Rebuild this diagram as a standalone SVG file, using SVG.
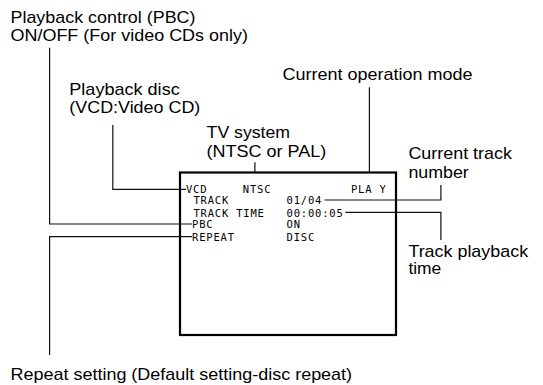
<svg xmlns="http://www.w3.org/2000/svg" width="543" height="385" viewBox="0 0 543 385">
<style>
.lbl{font-family:"Liberation Sans",Arial,sans-serif;font-size:16.4px;fill:#000}
.osd{font-family:"DejaVu Sans Mono","Liberation Mono",monospace;font-size:10.5px;letter-spacing:0.8px;fill:#000}
.ln{fill:none;stroke:#111;stroke-width:1.2}
</style>
<rect width="543" height="385" fill="#fff"/>
<g id="screen">
<rect x="180" y="172.5" width="216" height="162.5" fill="none" stroke="#000" stroke-width="2.2"/>
<text class="osd" x="186" y="192.7">VCD</text>
<text class="osd" x="242.8" y="192.7">NTSC</text>
<text class="osd" x="351" y="192.7">PLA Y</text>
<text class="osd" x="193.5" y="204.3">TRACK</text>
<text class="osd" x="286.6" y="204.3">01/04</text>
<text class="osd" x="193.5" y="216.5">TRACK TIME</text>
<text class="osd" x="286.6" y="216.5">00:00:05</text>
<text class="osd" x="192.1" y="228.3">PBC</text>
<text class="osd" x="286.6" y="228.3">ON</text>
<text class="osd" x="192.1" y="240.7">REPEAT</text>
<text class="osd" x="286.6" y="240.7">DISC</text>
</g>
<g id="pbc-label">
<text class="lbl" x="10.5" y="22.7" textLength="185" lengthAdjust="spacingAndGlyphs">Playback control (PBC)</text>
<text class="lbl" x="10.5" y="41.2" textLength="237.5" lengthAdjust="spacingAndGlyphs">ON/OFF (For video CDs only)</text>
</g>
<g id="disc-label">
<text class="lbl" x="69.3" y="95" textLength="110.4" lengthAdjust="spacingAndGlyphs">Playback disc</text>
<text class="lbl" x="69.3" y="113.3" textLength="131" lengthAdjust="spacingAndGlyphs">(VCD:Video CD)</text>
</g>
<g id="mode-label">
<text class="lbl" x="282.5" y="80" textLength="190" lengthAdjust="spacingAndGlyphs">Current operation mode</text>
</g>
<g id="tv-label">
<text class="lbl" x="206.6" y="137.7" textLength="83.5" lengthAdjust="spacingAndGlyphs">TV system</text>
<text class="lbl" x="206.6" y="156.7" textLength="119.7" lengthAdjust="spacingAndGlyphs">(NTSC or PAL)</text>
</g>
<g id="track-label">
<text class="lbl" x="408.4" y="159" textLength="103.5" lengthAdjust="spacingAndGlyphs">Current track</text>
<text class="lbl" x="408.4" y="177.7" textLength="60.4" lengthAdjust="spacingAndGlyphs">number</text>
</g>
<g id="time-label">
<text class="lbl" x="408.4" y="256.7" textLength="119.7" lengthAdjust="spacingAndGlyphs">Track playback</text>
<text class="lbl" x="408.4" y="274.3" textLength="32.8" lengthAdjust="spacingAndGlyphs">time</text>
</g>
<g id="repeat-label">
<text class="lbl" x="10.5" y="380" textLength="341.6" lengthAdjust="spacingAndGlyphs">Repeat setting (Default setting-disc repeat)</text>
</g>
<g id="connectors">
<polyline class="ln" points="49.6,47.7 49.6,224 192,224"/>
<polyline class="ln" points="112.8,125 112.8,189.3 186,189.3"/>
<line class="ln" x1="369.4" y1="87.3" x2="369.4" y2="172"/>
<line class="ln" x1="254.9" y1="162.3" x2="254.9" y2="172"/>
<polyline class="ln" points="324.6,200 440.9,200 440.9,185"/>
<polyline class="ln" points="345.3,212.3 440.9,212.3 440.9,240"/>
<polyline class="ln" points="192,236.7 49.6,236.7 49.6,355"/>
</g>
</svg>
